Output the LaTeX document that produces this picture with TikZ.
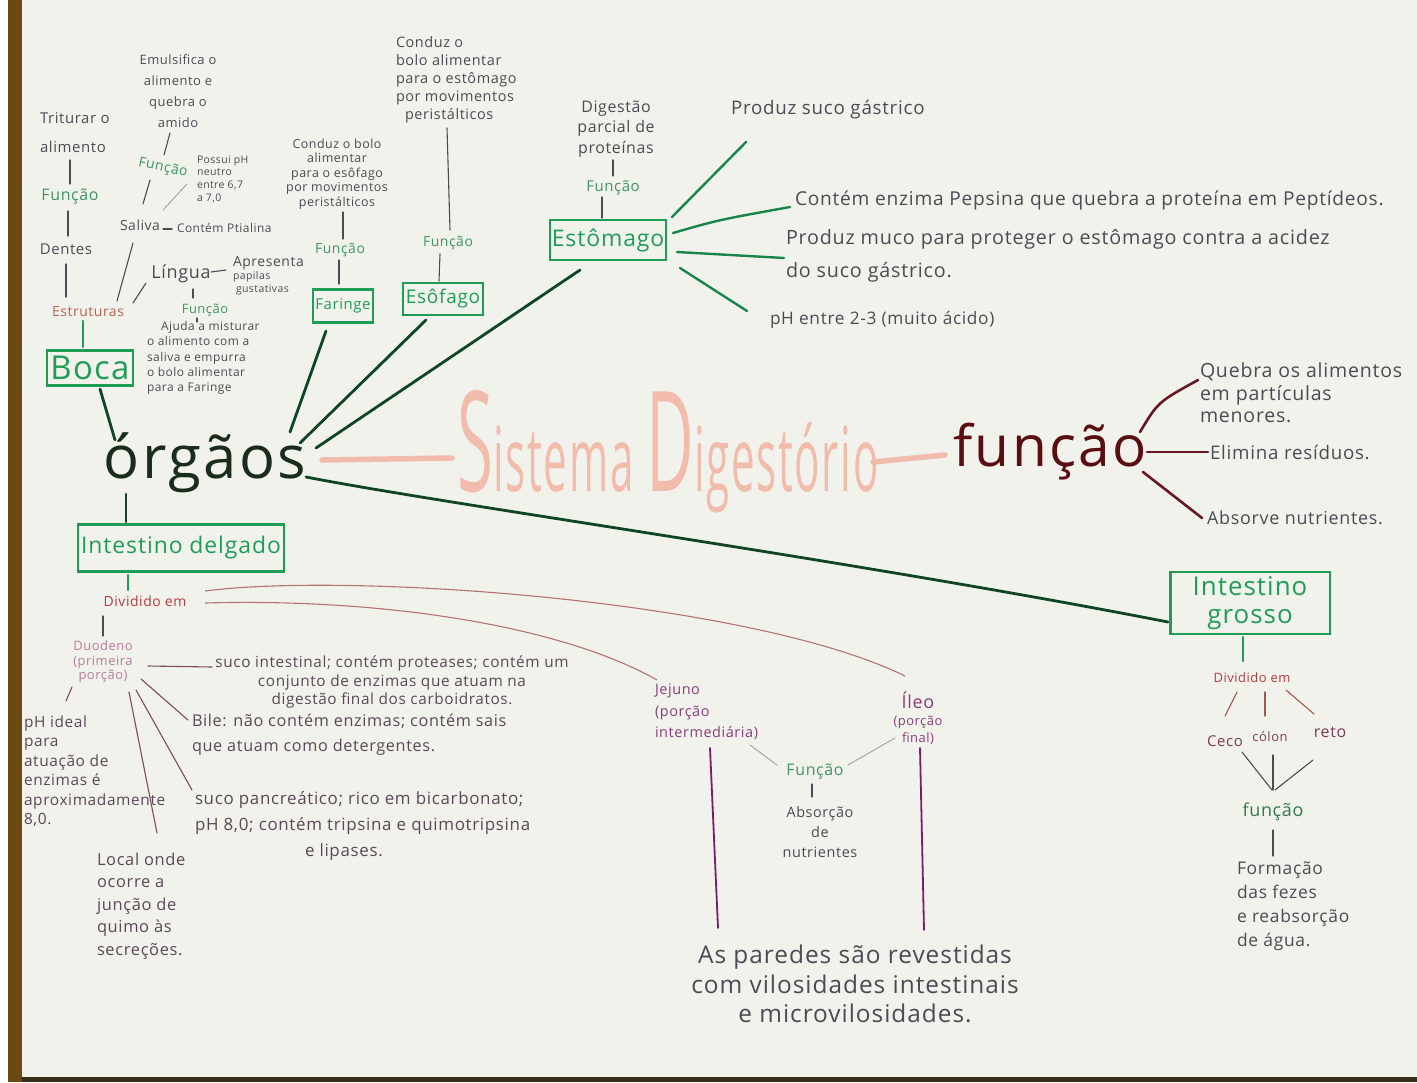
\documentclass[tikz,border=0pt]{standalone}
\usepackage{fontspec}
\usepackage{graphicx}
\setmainfont{Open Sans}[LetterSpace=4]
\usetikzlibrary{calc}
\definecolor{paper}{HTML}{F2F2EC}
\definecolor{edgebrown}{HTML}{6B4A12}
\definecolor{edgedark}{HTML}{3A2E1A}
\definecolor{ink}{HTML}{4B4B55}
\definecolor{inkp}{HTML}{5A4858}
\definecolor{mk}{HTML}{1F9D57}
\definecolor{fgreen}{HTML}{3F9563}
\definecolor{dgreen}{HTML}{0E4524}
\definecolor{organ}{HTML}{1A2C1D}
\definecolor{salmon}{HTML}{F2BCAD}
\definecolor{wine}{HTML}{5A0E12}
\definecolor{wineline}{HTML}{661822}
\definecolor{rust}{HTML}{B8624E}
\definecolor{divred}{HTML}{B83A3C}
\definecolor{divline}{HTML}{B57272}
\definecolor{pinkish}{HTML}{B77A9C}
\definecolor{plum}{HTML}{8B3C7C}
\definecolor{violet}{HTML}{7C1C6E}
\definecolor{pencil}{HTML}{9A9A9A}
\definecolor{mauve}{HTML}{7A4C62}
\definecolor{partc}{HTML}{7A3A58}
\definecolor{brownline}{HTML}{A55A50}
\newcommand\fs[2]{\fontsize{#1}{#2}\selectfont}
\begin{document}
\begin{tikzpicture}[x=1bp,y=-1bp,
  every node/.style={inner sep=0pt,outer sep=0pt},
  txt/.style={text=ink},
  fn/.style={text=fgreen},
  organbox/.style={draw=mk,line width=2.4bp,text=mk,inner sep=0pt},
  penline/.style={draw=ink,line width=1.1bp,line cap=round},
  faint/.style={draw=pencil,line width=0.8bp,line cap=round},
  trunk/.style={draw=dgreen,line width=2.8bp,line cap=round},
  gshort/.style={draw=mk,line width=2.2bp,line cap=round},
  gbranch/.style={draw=mk!85!black,line width=2.4bp,line cap=round},
  rbranch/.style={draw=wineline,line width=2.6bp,line cap=round},
  sdash/.style={draw=salmon,line width=5.5bp,line cap=round},
  divl/.style={draw=divline,line width=1.1bp},
  mline/.style={draw=mauve,line width=1.1bp,line cap=round},
  vline/.style={draw=violet,line width=1.8bp,line cap=round},
  bline/.style={draw=brownline,line width=1.1bp,line cap=round},
]
\fill[white] (0,0) rectangle (1417,1082);
\fill[edgebrown] (8,0) rectangle (22,1082);
\fill[paper] (22,0) rectangle (1417,1077);
\fill[edgedark] (22,1077) rectangle (1417,1082);
\useasboundingbox (0,0) rectangle (1417,1082);

% ---------- Boca branch
\node[txt,font=\fs{15}{29},align=left,anchor=west] (trit) at (40,133) {Triturar o\\alimento};
\node[fn,font=\fs{16}{18}] (f1) at (70,197) {Função};
\node[txt,font=\fs{15}{18}] (dentes) at (66,249) {Dentes};
\node[text=rust,font=\fs{14}{16}] (estr) at (88,312) {Estruturas};
\node[organbox,font=\fs{33}{36},minimum width=86,minimum height=35] (boca) at (90,368) {Boca};
\node[txt,font=\fs{13}{21},align=center] (emul) at (178,91) {Emulsifica o\\alimento e\\quebra o\\amido};
\node[fn,font=\fs{14}{16},rotate=-12] (f2) at (163,168) {Função};
\node[txt,font=\fs{10.5}{12.7},align=left,anchor=west] (possui) at (197,179) {Possui pH\\neutro\\entre 6,7\\a 7,0};
\node[txt,font=\fs{14}{16}] (saliva) at (140,225) {Saliva};
\node[txt,font=\fs{12}{14},anchor=west] (ptial) at (177,228) {Contém Ptialina};
\node[txt,font=\fs{18}{20}] (lingua) at (181,274) {Língua};
\node[txt,font=\fs{10.5}{13},align=left,anchor=west] (papil) at (233,276) {{\fs{14}{15}Apresenta}\\papilas\\\hspace*{3bp}gustativas};
\node[fn,font=\fs{13}{15}] (f3) at (205,310) {Função};
\node[txt,font=\fs{12}{15.5},align=left,anchor=west] (ajuda) at (147,358) {\hspace*{14bp}Ajuda a misturar\\o alimento com a\\saliva e empurra\\o bolo alimentar\\para a Faringe};

% ---------- Faringe, Esofago, Estomago
\node[txt,font=\fs{12.5}{14.5},align=center] (condf) at (337,174) {Conduz o bolo\\alimentar\\para o esôfago\\por movimentos\\peristálticos};
\node[fn,font=\fs{14}{16}] (ff) at (340,250) {Função};
\node[organbox,font=\fs{15}{17},minimum width=60,minimum height=33] (far) at (343,306) {Faringe};
\node[txt,font=\fs{14.5}{18},align=left,anchor=west] (conde) at (396,80) {Conduz o\\bolo alimentar\\para o estômago\\por movimentos\\\hspace*{9bp}peristálticos};
\node[fn,font=\fs{14}{16}] (fe) at (448,243) {Função};
\node[organbox,font=\fs{19}{21},minimum width=80,minimum height=32] (eso) at (443,299) {Esôfago};
\node[txt,font=\fs{16}{21},align=center] (dig) at (616,129) {Digestão\\parcial de\\proteínas};
\node[fn,font=\fs{15}{17}] (fs) at (613,188) {Função};
\node[organbox,font=\fs{23}{25},minimum width=117,minimum height=40] (est) at (608,240) {Estômago};
\node[txt,font=\fs{18.8}{21},anchor=west] (sg) at (731,110) {Produz suco gástrico};
\node[txt,font=\fs{19.2}{22},anchor=west] (pep) at (795,200) {Contém enzima Pepsina que quebra a proteína em Peptídeos.};
\node[txt,font=\fs{19.8}{33},align=left,anchor=west] (muco) at (786,256) {Produz muco para proteger o estômago contra a acidez\\do suco gástrico.};
\node[txt,font=\fs{17.3}{20},anchor=west] (ph) at (770,320) {pH entre 2-3 (muito ácido)};

% ---------- centre
\node[text=organ,font=\fs{60}{62}] (org) at (205,463) {órgãos};
\node[text=salmon,anchor=base] (sys) at (668,491) {\scalebox{0.47}[1]{{\fs{140}{140}S}{\fs{90}{90}istema }{\fs{140}{140}D}{\fs{90}{90}igestório}}};
\node[text=wine,font=\fs{57}{60}] (func) at (1050,452) {função};
\node[txt,font=\fs{19.6}{22.5},align=left,anchor=west] (quebra) at (1200,393) {Quebra os alimentos\\em partículas\\menores.};
\node[txt,font=\fs{18.8}{21},anchor=west] (elim) at (1210,452) {Elimina resíduos.};
\node[txt,font=\fs{18}{20},anchor=west] (absn) at (1207,518) {Absorve nutrientes.};

% ---------- Intestino grosso
\node[organbox,font=\fs{26}{28},align=center,minimum width=160,minimum height=62] (ig) at (1250,603) {Intestino\\grosso};
\node[text=divred,font=\fs{13}{15}] (div2) at (1252,678) {Dividido em};
\node[text=partc,font=\fs{15}{17}] (ceco) at (1225,741) {Ceco};
\node[text=partc,font=\fs{13}{15}] (colon) at (1270,737) {cólon};
\node[text=partc,font=\fs{16}{18}] (reto) at (1330,732) {reto};
\node[text=fgreen!80!black,font=\fs{18}{20}] (fg) at (1273,812) {função};
\node[txt,font=\fs{17.5}{24},align=left,anchor=west] (form) at (1237,906) {Formação\\das fezes\\e reabsorção\\de água.};

% ---------- Intestino delgado
\node[organbox,font=\fs{23}{25},minimum width=207,minimum height=47] (idel) at (181,548) {Intestino delgado};
\node[text=divred,font=\fs{14}{16}] (div) at (145,601) {Dividido em};
\node[text=pinkish,font=\fs{13}{14.5},align=center] (duo) at (103,662) {Duodeno\\(primeira\\porção)};
\node[text=inkp,font=\fs{15.4}{18.5},align=center] (sucoint) at (392,682) {suco intestinal; contém proteases; contém um\\conjunto de enzimas que atuam na\\digestão final dos carboidratos.};
\node[text=inkp,font=\fs{16.3}{25},align=left,anchor=west] (bile) at (192,735) {Bile: não contém enzimas; contém sais\\que atuam como detergentes.};
\node[text=inkp,font=\fs{17}{26},align=left,anchor=west] (panc) at (195,826) {suco pancreático; rico em bicarbonato;\\pH 8,0; contém tripsina e quimotripsina\\\hspace*{110bp}e lipases.};
\node[text=inkp,font=\fs{16.5}{22.5},align=left,anchor=west] (local) at (97,906) {Local onde\\ocorre a\\junção de\\quimo às\\secreções.};
\node[text=inkp,font=\fs{15.5}{19.6},align=left,anchor=west] (phid) at (24,771) {pH ideal\\para\\atuação de\\enzimas é\\aproximadamente\\8,0.};
\node[text=plum,font=\fs{14.5}{21.5},align=left,anchor=west] (jej) at (655,712) {Jejuno\\(porção\\intermediária)};
\node[text=plum,font=\fs{13}{17},align=center] (ileo) at (918,718) {{\fs{18}{19}Íleo}\\(porção\\final)};
\node[fn,font=\fs{16}{18}] (fj) at (815,772) {Função};
\node[txt,font=\fs{14.5}{20},align=center] (abs) at (820,832) {Absorção\\de\\nutrientes};
\node[txt,font=\fs{24.5}{29.5},align=center] (par) at (855,984) {As paredes são revestidas\\com vilosidades intestinais\\e microvilosidades.};

% ---------- connectors: Boca
\draw[penline] ($(trit.west)+(30,27)$) -- ($(f1)+(0,-13)$);
\draw[penline] ($(f1)+(-2,14)$) -- ($(dentes)+(2,-13)$);
\draw[penline] ($(dentes)+(0,15)$) -- ($(estr)+(-22,-15)$);
\draw[gshort] ($(estr)+(-5,9)$) -- ($(boca)+(-7,-21)$);
\draw[trunk] ($(boca)+(10,21)$) -- ($(org)+(-90,-23)$);
\draw[penline] ($(emul)+(-8,42)$) -- ($(f2)+(1,-13)$);
\draw[penline] ($(f2)+(-13,12)$) -- ($(saliva)+(3,-21)$);
\draw[faint] ($(possui.west)+(-10,5)$) -- ($(saliva)+(23,-15)$);
\draw[penline] ($(saliva)+(23,4)$) -- ($(ptial.west)+(-5,1)$);
\draw[penline] ($(saliva)+(-7,18)$) -- ($(estr)+(29,-11)$);
\draw[penline] ($(lingua)+(-35,9)$) -- ($(estr)+(45,-9)$);
\draw[penline] ($(lingua)+(30,-2)$) -- ($(papil.west)+(-7,-6)$);
\draw[penline] ($(lingua)+(12,15)$) -- ($(f3)+(-12,-12)$);
\draw[penline] ($(f3)+(-8,8)$) -- ($(ajuda.west)+(50,-36)$);
% Faringe, Esofago, Estomago
\draw[penline] ($(condf)+(6,38)$) -- ($(ff)+(3,-11)$);
\draw[penline] ($(ff)+(-1,10)$) -- ($(far)+(-4,-22)$);
\draw[trunk] ($(far)+(-17,25)$) -- ($(org)+(85,-31)$);
\draw[penline] ($(conde.west)+(51,48)$) -- ($(fe)+(2,-13)$);
\draw[penline] ($(fe)+(-8,11)$) -- ($(eso)+(-4,-18)$);
\draw[trunk] ($(eso)+(-17,21)$) -- ($(org)+(95,-20)$);
\draw[penline] ($(dig)+(-3,31)$) -- ($(fs)+(0,-12)$);
\draw[penline] ($(fs)+(-11,9)$) -- ($(est)+(-6,-22)$);
\draw[trunk] ($(est)+(-28,30)$) -- ($(org)+(111,-15)$);
\draw[gbranch] ($(est)+(64,-23)$) -- ($(sg.west)+(15,32)$);
\draw[gbranch] ($(est)+(65,-7)$) .. controls ($(est)+(110,-20)$) .. ($(pep.west)+(-5,7)$);
\draw[gbranch] ($(est)+(69,12)$) -- ($(muco.west)+(-2,2)$);
\draw[gbranch] ($(est)+(72,28)$) -- ($(ph.west)+(-23,-9)$);
% centre
\draw[sdash] ($(org)+(117,-3)$) -- ($(sys.base)+(-216,-33)$);
\draw[sdash] ($(sys.base)+(205,-29)$) -- ($(func)+(-105,3)$);
\draw[rbranch] ($(func)+(90,-20)$) .. controls ($(func)+(108,-50)$) .. ($(quebra.west)+(-2,-13)$);
\draw[rbranch] ($(func)+(97,0)$) -- ($(elim.west)+(-2,0)$);
\draw[rbranch] ($(func)+(93,20)$) -- ($(absn.west)+(-5,0)$);
\draw[trunk] ($(org)+(101,14)$) .. controls ($(org)+(245,42)$) and ($(ig)+(-400,-43)$) .. ($(ig)+(-82,19)$);
% Intestino delgado
\draw[trunk] ($(org)+(-79,31)$) -- ($(idel)+(-55,-26)$);
\draw[gshort] ($(idel)+(-53,27)$) -- ($(div)+(-17,-11)$);
\draw[divl] ($(div)+(60,-10)$) .. controls ($(div)+(205,-29)$) and ($(div)+(605,-1)$) .. ($(ileo)+(-13,-42)$);
\draw[divl] ($(div)+(60,2)$) .. controls ($(div)+(235,-3)$) and ($(div)+(415,24)$) .. ($(jej.west)+(2,-32)$);
\draw[penline] ($(div)+(-42,15)$) -- ($(duo)+(0,-26)$);
\draw[mline] ($(duo)+(45,4)$) -- ($(sucoint)+(-180,-15)$);
\draw[mline] ($(duo)+(38,17)$) -- ($(bile.west)+(-4,-15)$);
\draw[mline] ($(duo)+(33,28)$) -- ($(panc.west)+(-3,-36)$);
\draw[mline] ($(duo)+(26,30)$) -- ($(local.west)+(60,-73)$);
\draw[mline] ($(duo)+(-31,25)$) -- ($(phid.west)+(42,-70)$);
\draw[vline] ($(jej.west)+(55,36)$) -- ($(par)+(-137,-56)$);
\draw[vline] ($(ileo)+(2,30)$) -- ($(par)+(69,-54)$);
\draw[faint] ($(jej.west)+(95,33)$) -- ($(fj)+(-38,-7)$);
\draw[faint] ($(ileo)+(-23,20)$) -- ($(fj)+(33,-7)$);
\draw[penline] ($(fj)+(-3,12)$) -- ($(abs)+(-8,-35)$);
% Intestino grosso
\draw[gshort] ($(ig)+(-7,34)$) -- ($(div2)+(-9,-17)$);
\draw[bline] ($(div2)+(-15,14)$) -- ($(ceco)+(0,-25)$);
\draw[bline] ($(div2)+(13,14)$) -- ($(colon)+(-5,-21)$);
\draw[bline] ($(div2)+(34,12)$) -- ($(reto)+(-16,-18)$);
\draw[penline] ($(ceco)+(17,11)$) -- ($(fg)+(-1,-22)$);
\draw[penline] ($(colon)+(3,18)$) -- ($(fg)+(0,-22)$);
\draw[penline] ($(reto)+(-17,28)$) -- ($(fg)+(2,-22)$);
\draw[penline] ($(fg)+(0,18)$) -- ($(form.west)+(36,-50)$);
\end{tikzpicture}
\end{document}
